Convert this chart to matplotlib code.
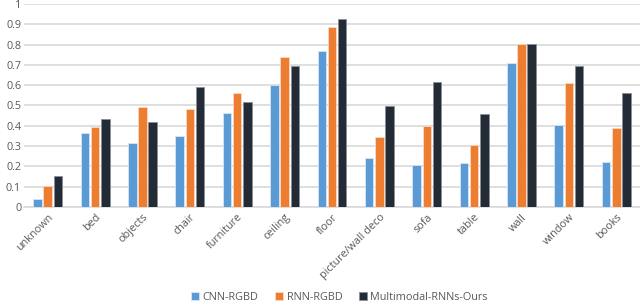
import numpy as np
import matplotlib.pyplot as plt

categories = ['unknown', 'bed', 'objects', 'chair', 'furniture', 'ceiling', 'floor',
              'picture/wall deco', 'sofa', 'table', 'wall', 'window', 'books']
cnn_rgbd = [0.038, 0.363, 0.315, 0.348, 0.463, 0.603, 0.768, 0.240, 0.205, 0.217, 0.708, 0.406, 0.223]
rnn_rgbd = [0.103, 0.396, 0.493, 0.481, 0.562, 0.739, 0.888, 0.345, 0.399, 0.304, 0.801, 0.612, 0.389]
ours = [0.153, 0.433, 0.419, 0.590, 0.519, 0.695, 0.924, 0.496, 0.617, 0.460, 0.805, 0.693, 0.560]
series_names = ['CNN-RGBD', 'RNN-RGBD', 'Multimodal-RNNs-Ours']
colors = ['#5b9bd5', '#ed7d31', '#232b36']
edges = ['#d6e6f5', '#fbd9c3', '#8a8f96']

plt.rcParams['font.family'] = ['Open Sans', 'DejaVu Sans']

fig = plt.figure(figsize=(6.4, 3.02), dpi=100)
ax = fig.add_axes([0.0375, 0.3146, 0.9625, 0.6724])

x = np.arange(len(categories))
w = 0.18
step = 0.215
for i, (vals, name) in enumerate(zip([cnn_rgbd, rnn_rgbd, ours], series_names)):
    ax.bar(x + (i - 1) * step, vals, width=w, color=colors[i], edgecolor=edges[i],
           linewidth=0.6, label=name, zorder=3)

ax.set_xlim(-0.5, len(categories) - 0.5)
ax.set_ylim(0, 1)
ax.set_yticks(np.arange(0, 1.01, 0.1))
ax.set_yticklabels(['0', '0.1', '0.2', '0.3', '0.4', '0.5', '0.6', '0.7', '0.8', '0.9', '1'])
ax.yaxis.grid(True, color='#d9d9d9', linewidth=1.2, zorder=0)
ax.set_axisbelow(True)
for s in ['top', 'right', 'left']:
    ax.spines[s].set_visible(False)
ax.spines['bottom'].set_color('#d9d9d9')
ax.spines['bottom'].set_linewidth(1.2)
ax.tick_params(axis='both', length=0, colors='#595959', labelsize=7.8)
ax.tick_params(axis='y', pad=2)
ax.set_xticks(x)
ax.set_xticklabels(categories, rotation=45, ha='right', rotation_mode='anchor')

fig.legend(loc='lower center', bbox_to_anchor=(0.53, -0.035), ncol=3, frameon=False,
           fontsize=7.8, handlelength=0.8, handleheight=0.8, columnspacing=1.5,
           handletextpad=0.3, labelcolor='#595959')

fig.savefig('out.png', dpi=100)
